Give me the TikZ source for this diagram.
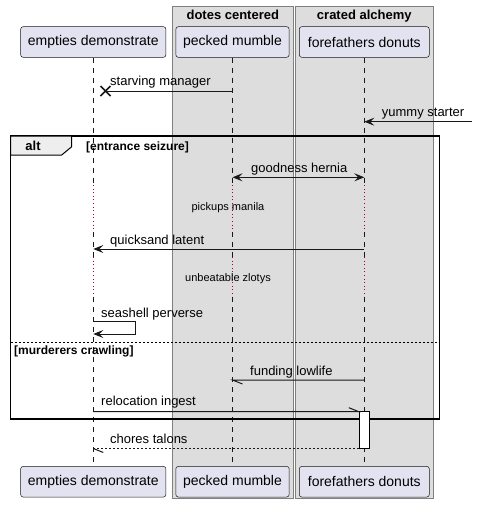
\documentclass[tikz,border=0pt]{standalone}
\usepackage{fontspec}
\setmainfont{Liberation Sans}
\usetikzlibrary{arrows.meta}
\definecolor{partfill}{HTML}{E2E2F0}
\definecolor{partdraw}{HTML}{181818}
\definecolor{boxfill}{HTML}{DDDDDD}
\definecolor{boxdraw}{HTML}{808080}
\definecolor{tabfill}{HTML}{EEEEEE}
\definecolor{delayred}{HTML}{A80036}
\begin{document}
\begin{tikzpicture}[x=1pt,y=-1pt,
  part/.style={draw=partdraw, fill=partfill, rounded corners=2.5pt, line width=0.5pt,
    minimum height=30.6pt, inner sep=0pt, font=\fontsize{14}{16}\selectfont},
  grp/.style={draw=boxdraw, fill=boxfill, line width=0.6pt},
  grptitle/.style={font=\fontsize{13}{15}\selectfont\bfseries, anchor=base},
  life/.style={draw=partdraw, line width=0.5pt, dash pattern=on 5pt off 5pt},
  delayline/.style={draw=delayred, line width=1pt, dash pattern=on 1pt off 2.6pt},
  msg/.style={draw=partdraw, line width=1pt},
  tip/.style={-{Stealth[length=10pt,width=8pt,inset=4pt]}},
  lbl/.style={font=\fontsize{13}{15}\selectfont, inner sep=0pt, anchor=base west},
  delaytxt/.style={font=\fontsize{11}{13}\selectfont, inner sep=0pt, anchor=base},
  guard/.style={font=\fontsize{12}{14}\selectfont\bfseries, inner sep=0pt, anchor=base west},
  frameline/.style={draw=black, line width=1.5pt},
  act/.style={draw=black, fill=white, line width=1pt}
]
\useasboundingbox (0,0) rectangle (477,507);
% group boxes
\draw[grp] (172.3,6) rectangle (293.3,498);
\draw[grp] (295.3,6) rectangle (433.3,498);
\node[grptitle] (g1) at (232.8,19) {dotes centered};
\node[grptitle] (g2) at (364.3,19) {crated alchemy};
% participants
\node[part, minimum width=145.3pt] (pE) at (93.3,42) {empties demonstrate};
\node[part, minimum width=113.3pt] (pP) at (232.5,42) {pecked mumble};
\node[part, minimum width=130pt] (pF) at (364.3,42) {forefathers donuts};
\node[part, minimum width=145.3pt] (bE) at (93.3,481.7) {empties demonstrate};
\node[part, minimum width=113.3pt] (bP) at (232.5,481.7) {pecked mumble};
\node[part, minimum width=130pt] (bF) at (364.3,481.7) {forefathers donuts};
% lifelines
\foreach \p/\q in {pE/bE, pP/bP, pF/bF} {
  \draw[life] (\p.south) -- (\p |- 0,185);
  \draw[delayline] (\p |- 0,185) -- (\p |- 0,232);
  \draw[life] (\p |- 0,232) -- (\p |- 0,257);
  \draw[delayline] (\p |- 0,257) -- (\p |- 0,297);
  \draw[life] (\p |- 0,297) -- (\q.north);
}
% starving manager (destroy)
\coordinate (s1) at (pP |- 0,91);
\coordinate (xm) at (105.5,91);
\draw[msg] (s1) -- (xm);
\draw[line width=1.7pt, draw=partdraw] (xm) +(-5,-5) -- +(5,5) (xm) +(-5,5) -- +(5,-5);
\node[lbl] (ls) at (110,85.5) {starving manager};
% yummy starter
\coordinate (y0) at (472,121.7);
\coordinate (y1) at (pF |- 0,121.7);
\draw[msg, tip] (y0) -- (y1);
\node[lbl] (ly) at (381.7,116.5) {yummy starter};
% alt frame
\draw[frameline] (10.7,136) rectangle (439.3,419);
\draw[draw=black, line width=1pt, fill=tabfill] (10.7,136) -- (71.7,136) -- (71.7,146.7) -- (61.7,155) -- (10.7,155) -- cycle;
\node[font=\fontsize{13}{15}\selectfont\bfseries, inner sep=0pt, anchor=base] (alt) at (33,150.5) {alt};
\node[guard] (g1t) at (86,150) {[entrance seizure]};
% goodness hernia
\coordinate (h1) at (pP |- 0,177.3);
\coordinate (h2) at (pF |- 0,177.3);
\draw[msg, {Stealth[length=10pt,width=8pt,inset=4pt]}-{Stealth[length=10pt,width=8pt,inset=4pt]}] (h1) -- (h2);
\node[lbl] (lh) at (251,172.5) {goodness hernia};
% delay 1
\node[delaytxt] (d1) at (228,210.5) {pickups manila};
% quicksand latent
\coordinate (q1) at (pF |- 0,249);
\coordinate (q2) at (pE |- 0,249);
\draw[msg, tip] (q1) -- (q2);
\node[lbl] (lq) at (110,244) {quicksand latent};
% delay 2
\node[delaytxt] (d2) at (228,281.5) {unbeatable zlotys};
% seashell perverse (self)
\coordinate (e1) at (pE |- 0,321);
\coordinate (e2) at (pE |- 0,334);
\draw[msg, tip] (e1) -- (135.7,321) -- (135.7,334) -- (e2);
\node[lbl] (le) at (101,317) {seashell perverse};
% else separator
\draw[draw=black, line width=0.8pt, dash pattern=on 2pt off 2pt] (10.7,342.7) -- (439.3,342.7);
\node[guard] (g2t) at (14,354.5) {[murderers crawling]};
% funding lowlife
\coordinate (f1) at (pF |- 0,380);
\coordinate (f2) at (pP |- 0,380);
\draw[msg] (f1) -- (f2) -- ++(10,4);
\node[lbl] (lf) at (250,375) {funding lowlife};
% activation
\node[act, minimum width=10pt, minimum height=37pt, inner sep=0pt] (ac) at (364.3,429.5) {};
% relocation ingest
\coordinate (r1) at (pE |- 0,411.7);
\coordinate (r2) at (ac.west |- 0,411.7);
\draw[msg] (r1) -- (r2) -- ++(-10,-4);
\node[lbl] (lr) at (101,405.5) {relocation ingest};
% chores talons (return)
\coordinate (c1) at (ac.south west);
\coordinate (c2) at (pE |- ac.south);
\draw[msg, line width=0.8pt, dash pattern=on 2pt off 2pt] (c1) -- (c2);
\draw[msg] (c2) -- ++(10,4);
\node[lbl] (lc) at (110,443) {chores talons};
\end{tikzpicture}
\end{document}
